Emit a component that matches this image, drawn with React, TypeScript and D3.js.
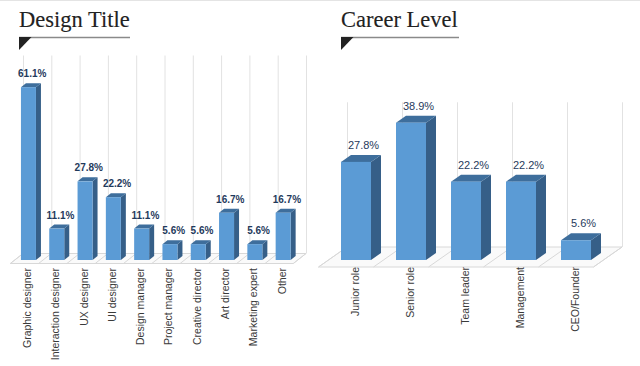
import React, { useRef, useEffect } from "react";
import * as d3 from "d3";

const designTitles = [
  "Graphic designer",
  "Interaction designer",
  "UX designer",
  "UI designer",
  "Design manager",
  "Project manager",
  "Creative director",
  "Art director",
  "Marketing expert",
  "Other",
];
const designValues = [61.1, 11.1, 27.8, 22.2, 11.1, 5.6, 5.6, 16.7, 5.6, 16.7];

const careerLevels = ["Junior role", "Senior role", "Team leader", "Management", "CEO/Founder"];
const careerValues = [27.8, 38.9, 22.2, 22.2, 5.6];

const WIDTH = 640;
const HEIGHT = 366;

const drawPanel = (svg, cfg) => {
  const g = svg.append("g");
  const base = cfg.base;

  // title + underline + corner mark
  g.append("text")
    .attr("x", cfg.titleX)
    .attr("y", 27)
    .attr("font-family", "'Liberation Serif', serif")
    .attr("font-size", 22.5)
    .attr("fill", "#222")
    .attr("stroke", "#222")
    .attr("stroke-width", 0.12)
    .text(cfg.title);
  g.append("line")
    .attr("x1", cfg.titleX)
    .attr("x2", cfg.titleX + cfg.ruleWidth)
    .attr("y1", 37.5)
    .attr("y2", 37.5)
    .attr("stroke", "#8a8a8a")
    .attr("stroke-width", 1.5);
  g.append("path")
    .attr("d", `M${cfg.titleX},37 L${cfg.titleX + 12.5},37 L${cfg.titleX},50 Z`)
    .attr("fill", "#222");

  const x = d3
    .scaleBand()
    .domain(cfg.cats)
    .range([cfg.x0, cfg.x1])
    .paddingInner(cfg.pad)
    .paddingOuter(cfg.pad / 2);

  const y = d3.scaleLinear().domain([0, cfg.yMax]).range([base, cfg.yTop]);

  const step = x.step();
  const bounds = d3.range(cfg.cats.length + 1).map((i) => cfg.x0 + i * step);
  const [fx, fy] = cfg.front;
  const [bx, by] = cfg.back;
  const [dx, dy] = cfg.depth;

  // floor
  g.append("path")
    .attr(
      "d",
      `M${cfg.x0 + fx},${base + fy} L${cfg.x1 + fx},${base + fy} L${cfg.x1 + bx},${base + by} L${cfg.x0 + bx},${base + by} Z`
    )
    .attr("fill", "#fafafa")
    .attr("stroke", "#d8d8d8")
    .attr("stroke-width", 1);

  g.append("g")
    .selectAll("line")
    .data(bounds)
    .join("line")
    .attr("x1", (d) => d + fx)
    .attr("y1", base + fy)
    .attr("x2", (d) => d + bx)
    .attr("y2", base + by)
    .attr("stroke", "#d8d8d8");

  // back wall gridlines
  g.append("g")
    .selectAll("line")
    .data(bounds)
    .join("line")
    .attr("x1", (d) => d + bx + 0.5)
    .attr("x2", (d) => d + bx + 0.5)
    .attr("y1", base + by)
    .attr("y2", y(cfg.yMax) + by)
    .attr("stroke", "#e2e2e2");

  const bw = x.bandwidth();
  const bars = g
    .append("g")
    .selectAll("g")
    .data(cfg.cats.map((c, i) => ({ c, v: cfg.vals[i] })))
    .join("g");

  bars
    .append("path")
    .attr("d", (d) => {
      const x0 = x(d.c) + bw;
      const yt = y(d.v);
      return `M${x0},${yt} L${x0 + dx},${yt + dy} L${x0 + dx},${base + dy} L${x0},${base} Z`;
    })
    .attr("fill", "#365f88");

  bars
    .append("path")
    .attr("d", (d) => {
      const x0 = x(d.c);
      const yt = y(d.v);
      return `M${x0},${yt} L${x0 + dx},${yt + dy} L${x0 + bw + dx},${yt + dy} L${x0 + bw},${yt} Z`;
    })
    .attr("fill", "#3e6e9c");

  bars
    .append("rect")
    .attr("x", (d) => x(d.c))
    .attr("y", (d) => y(d.v))
    .attr("width", bw)
    .attr("height", (d) => base - y(d.v))
    .attr("fill", "#5b9bd5");

  bars
    .append("text")
    .attr("x", (d) => x(d.c) + bw / 2 + dx * 0.75)
    .attr("y", (d) => y(d.v) + dy - 6)
    .attr("text-anchor", "middle")
    .attr("font-family", "'Liberation Sans', Arial, sans-serif")
    .attr("font-size", cfg.valueSize)
    .attr("font-weight", cfg.valueBold ? "bold" : "normal")
    .attr("fill", "#1f3a5c")
    .text((d) => `${d.v.toFixed(1)}%`);

  // category labels
  g.append("g")
    .selectAll("text")
    .data(cfg.cats)
    .join("text")
    .attr("transform", (d) => `translate(${x(d) + bw / 2 + 2.5},${cfg.labelY}) rotate(-90)`)
    .attr("text-anchor", "end")
    .attr("font-family", "'Liberation Sans', Arial, sans-serif")
    .attr("font-size", 10.5)
    .attr("fill", "#3a3a3a")
    .text((d) => d);
};

const App = () => {
  const svgRef = useRef();

  useEffect(() => {
    const svg = d3.select(svgRef.current);
    svg.selectAll("*").remove();

    svg.append("rect").attr("width", WIDTH).attr("height", HEIGHT).attr("fill", "#fff");
    svg
      .append("line")
      .attr("x1", 0)
      .attr("x2", WIDTH)
      .attr("y1", 0.5)
      .attr("y2", 0.5)
      .attr("stroke", "#e4e4e4");

    drawPanel(svg, {
      title: "Design Title",
      titleX: 19,
      ruleWidth: 111,
      cats: designTitles,
      vals: designValues,
      x0: 14.3,
      x1: 297.3,
      pad: 0.47,
      yMax: 70,
      yTop: 62,
      base: 260,
      depth: [5, -4],
      front: [-4, 3.5],
      back: [8.7, -6.5],
      valueSize: 10,
      valueBold: true,
      labelY: 268,
    });

    drawPanel(svg, {
      title: "Career Level",
      titleX: 341,
      ruleWidth: 118,
      cats: careerLevels,
      vals: careerValues,
      x0: 328.5,
      x1: 603.5,
      pad: 25 / 55,
      yMax: 41,
      yTop: 115.3,
      base: 260,
      depth: [10, -7],
      front: [-10, 7],
      back: [18.5, -13],
      valueSize: 11,
      valueBold: false,
      labelY: 267,
    });
  }, []);

  return (
    <svg
      ref={svgRef}
      width={WIDTH}
      height={HEIGHT}
      style={{ position: "absolute", left: 0, top: 0, display: "block" }}
    />
  );
};

export default App;
